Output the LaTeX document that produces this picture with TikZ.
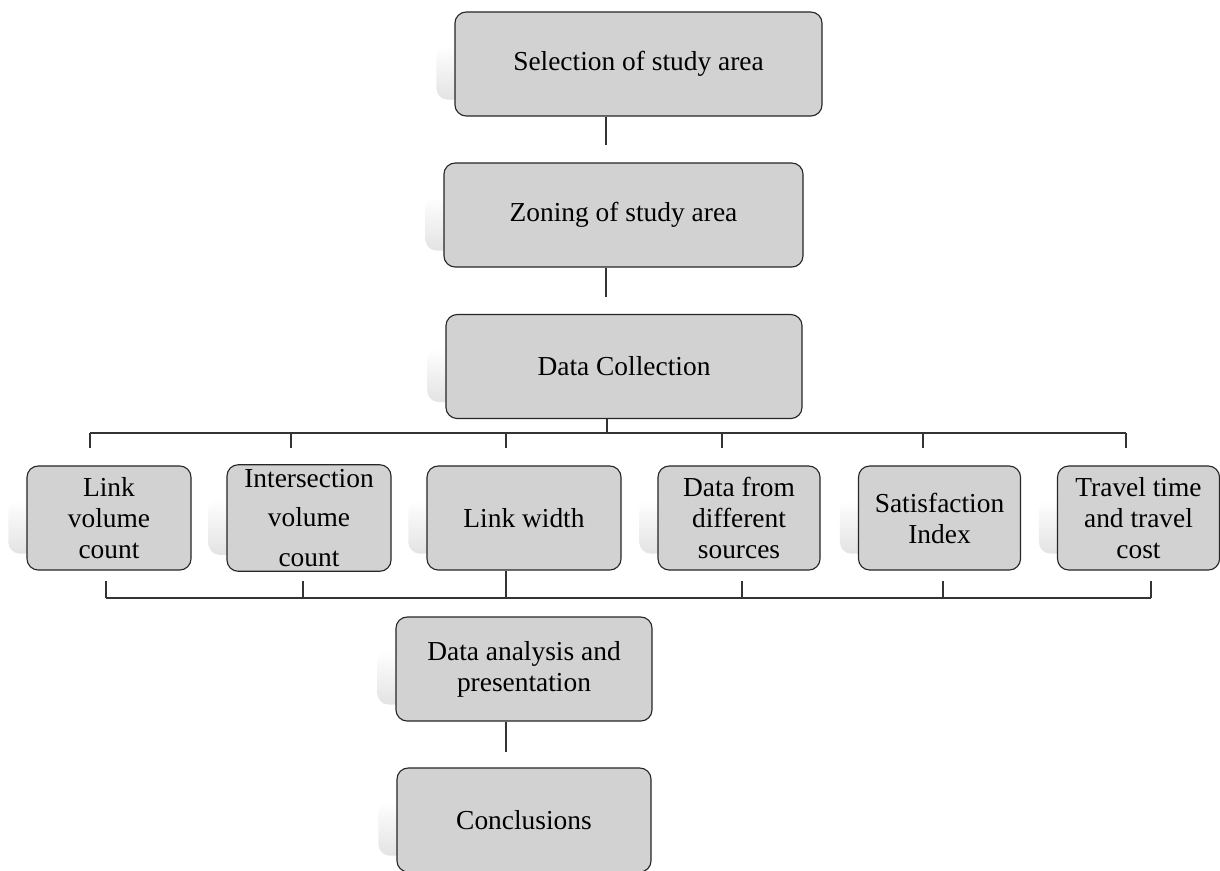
\documentclass[tikz,border=0pt]{standalone}
\usepackage{fontspec}
\setmainfont{Liberation Serif}
\usepackage{xcolor}
\usepackage{tikz}
\usetikzlibrary{backgrounds, calc}

\begin{document}
\begin{tikzpicture}[x=0.025cm, y=-0.025cm,
    stagebox/.style={rectangle, rounded corners=8pt, draw=black!85, line width=0.8pt, fill=gray!35, minimum width=9cm, minimum height=2.6cm, align=center, font=\fontsize{19.5}{22}\selectfont},
    databox/.style={stagebox, minimum width=4.1cm},
    shadowbox/.style={rounded corners=8pt, top color=white, bottom color=gray!22},
    link/.style={draw=black!80, line width=0.8pt},
]
    \useasboundingbox (0,0) rectangle (1220,870);

    % main chain
    \node[stagebox, minimum width=9.175cm] (sel) at (638.5,64) {Selection of study area};
    \node[stagebox, minimum width=8.975cm] (zon) at (623.5,215) {Zoning of study area};
    \node[stagebox, minimum width=8.9cm] (dc) at (624,366.5) {Data Collection};

    % data items
    \node[databox] (lvc) at (109,518) {Link\\volume\\count};
    \node[databox, font=\fontsize{19.5}{28}\selectfont] (ivc) at (309,518) {Intersection\\volume\\count};
    \node[databox, minimum width=4.85cm] (lw) at (524,518) {Link width};
    \node[databox, minimum width=4.05cm] (dfs) at (739,518) {Data from\\different\\sources};
    \node[databox, minimum width=4.05cm] (si) at (939.5,518) {Satisfaction\\Index};
    \node[databox, minimum width=4.05cm] (ttc) at (1138.5,518) {Travel time\\and travel\\cost};

    \node[stagebox, minimum width=6.4cm] (dap) at (524,669) {Data analysis and\\presentation};
    \node[stagebox, minimum width=6.35cm] (con) at (524,820) {Conclusions};

    % faded shadows
    \begin{scope}[on background layer]
        \foreach \n in {sel,zon,dc,lvc,ivc,lw,dfs,si,ttc,dap,con}
            \shade[shadowbox] ($(\n.north west)+(-18,34)$) rectangle ($(\n.south east)+(-18,-17)$);
    \end{scope}

    % connectors
    \coordinate (c1) at (606,145);
    \coordinate (c2) at (606,297);
    \coordinate (hub) at (607,433);
    \draw[link] (c1 |- sel.south) -- (c1);
    \draw[link] (c2 |- zon.south) -- (c2);
    \draw[link] (hub |- dc.south) -- (hub);

    \coordinate (t1) at (90,448);
    \coordinate (t2) at (291,448);
    \coordinate (t3) at (506,448);
    \coordinate (t4) at (722,448);
    \coordinate (t5) at (923,448);
    \coordinate (t6) at (1126,448);
    \draw[link] (t1 |- hub) -- (t6 |- hub);
    \foreach \t in {t1,t2,t3,t4,t5,t6}
        \draw[link] (\t |- hub) -- (\t);

    \coordinate (b1) at (106,598);
    \coordinate (b2) at (303,598);
    \coordinate (b3) at (506,598);
    \coordinate (b4) at (742,598);
    \coordinate (b5) at (943,598);
    \coordinate (b6) at (1151,598);
    \draw[link] (b1) -- (b6);
    \draw[link] (b3 |- lw.south) -- (b3);
    \foreach \b in {b1,b2,b4,b5,b6}
        \draw[link] (\b) -- ++(0,-17);

    \coordinate (c3) at (506,752);
    \draw[link] (c3 |- dap.south) -- (c3);
\end{tikzpicture}
\end{document}
